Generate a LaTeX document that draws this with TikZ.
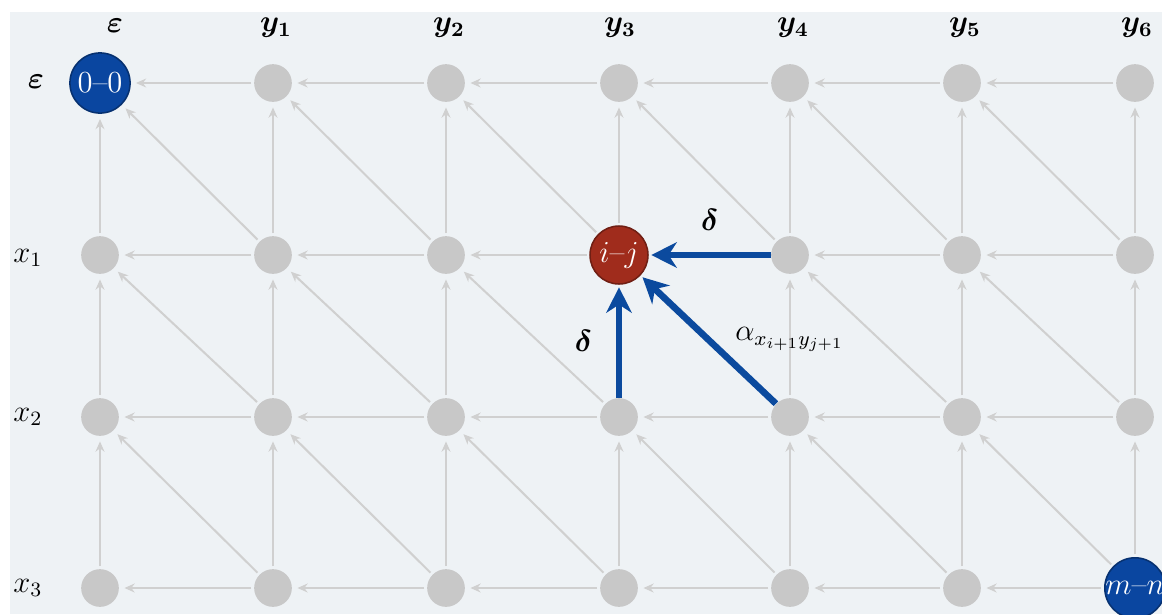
\documentclass[tikz,border=0pt]{standalone}
\usepackage{amsmath,bm}
\usetikzlibrary{arrows.meta}

\definecolor{panel}{HTML}{EEF2F5}
\definecolor{cellgray}{HTML}{C8C8C8}
\definecolor{edgegray}{HTML}{D0D0D0}
\definecolor{pathblue}{HTML}{0B4A9E}
\definecolor{endblue}{HTML}{0A46A0}
\definecolor{cellred}{HTML}{A02C1C}

\begin{document}
\begin{tikzpicture}[x=0.0138cm, y=-0.0138cm,
      cell/.style={circle, fill=cellgray, inner sep=0pt, minimum size=0.52cm},
      endcell/.style={circle, fill=endblue, draw=endblue!70!black, line width=0.6pt, inner sep=0pt, minimum size=0.83cm, text=white, font=\large},
      curcell/.style={circle, fill=cellred, draw=cellred!70!black, line width=0.6pt, inner sep=0pt, minimum size=0.8cm, text=white, font=\large},
      edge/.style={draw=edgegray, line width=0.8pt, -{Stealth[length=4pt,width=3.5pt]}, shorten >=2pt, shorten <=1pt},
      best/.style={draw=pathblue, line width=2.6pt, -{Stealth[length=10pt,width=10pt]}, shorten >=1pt},
      lbl/.style={font=\large}
    ]
    \fill[white] (0,0) rectangle (1162,614);
    \fill[panel] (10,12) rectangle (1162,614);
    \useasboundingbox (0,0) rectangle (1162,614);

    % alignment grid
    \foreach \r/\ry in {0/83,1/255,2/417,3/588}
      \foreach \c/\cx in {0/100,1/273,2/446,3/619,4/790,5/962,6/1135}
        \node[cell] (n-\r-\c) at (\cx,\ry) {};

    \node[endcell] (n-0-0) at (100,83) {0--0};
    \node[curcell] (n-1-3) at (619,255) {$i$--$j$};
    \node[endcell] (n-3-6) at (1135,588) {$m$--$n$};

    % sequence labels
    \node[lbl] (top-0) at (115,26) {$\bm{\varepsilon}$};
    \foreach \c/\cx in {1/276,2/449,3/620,4/793,5/965,6/1137}
      \node[lbl] (top-\c) at (\cx,28) {$\bm{y_{\c}}$};
    \node[lbl] (left-0) at (36,82) {$\bm{\varepsilon}$};
    \foreach \r/\ry in {1/258,2/417,3/588}
      \node[lbl] (left-\r) at (28,\ry) {$x_{\r}$};

    % edges
    \foreach \r in {0,1,2,3}
      \foreach \c in {0,1,2,3,4,5}{
        \pgfmathtruncatemacro\cnext{\c+1}
        \draw[edge] (n-\r-\cnext) -- (n-\r-\c);
      }
    \foreach \r in {0,1,2}
      \foreach \c in {0,1,2,3,4,5,6}{
        \pgfmathtruncatemacro\rnext{\r+1}
        \draw[edge] (n-\rnext-\c) -- (n-\r-\c);
      }
    \foreach \r in {0,1,2}
      \foreach \c in {0,1,2,3,4,5}{
        \pgfmathtruncatemacro\rnext{\r+1}
        \pgfmathtruncatemacro\cnext{\c+1}
        \draw[edge] (n-\rnext-\cnext) -- (n-\r-\c);
      }

    % recurrence for cell i-j
    \draw[best] (n-1-4) -- node[midway,above=5pt,lbl] {$\boldsymbol{\delta}$} (n-1-3);
    \draw[best] (n-2-3) -- node[midway,left=6pt,lbl] {$\boldsymbol{\delta}$} (n-1-3);
    \draw[best] (n-2-4) -- node[midway,right=6pt,lbl] {$\alpha_{x_{i+1}y_{j+1}}$} (n-1-3);
  \end{tikzpicture}
\end{document}
